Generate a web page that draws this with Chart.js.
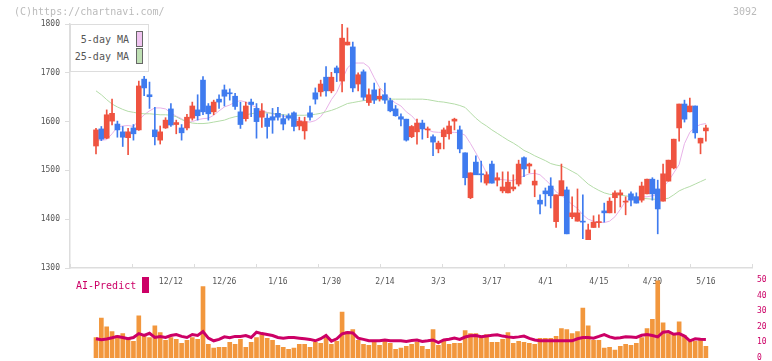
<!DOCTYPE html>
<html>
<head>
<meta charset="utf-8">
<script src="https://cdn.jsdelivr.net/npm/chart.js@4.4.1/dist/chart.umd.min.js"></script>
<style>
  body { margin: 0; background: #fff; width: 772px; height: 361px; position: relative; overflow: hidden;
         font-family: "DejaVu Sans Mono", monospace; }
  canvas { position: absolute; left: 0; }
  #priceChart { top: 0; }
  #volChart { top: 270px; }
  .t { position: absolute; white-space: nowrap; font-size: 10px; line-height: 12px; }
  .sw { position: absolute; width: 7px; height: 16px; box-sizing: border-box; }
</style>
</head>
<body>
<canvas id="priceChart" width="772" height="290"></canvas>
<canvas id="volChart" width="772" height="110"></canvas>

<div class="t" style="left:14px;top:6px;color:#bbb">(C)https://chartnavi.com/</div>
<div class="t" style="right:15px;top:6px;color:#bbb">3092</div>

<div style="position:absolute;left:70px;top:24px;width:79px;height:48px;box-sizing:border-box;border:1px solid #ddd;background:#fff"></div>
<div class="t" style="right:643px;top:34px;color:#555">5-day MA</div>
<div class="sw" style="left:136px;top:31px;background:#f0c4f0;border:1px solid #666"></div>
<div class="t" style="right:643px;top:51px;color:#555">25-day MA</div>
<div class="sw" style="left:136px;top:48px;background:#bfe0b4;border:1px solid #666"></div>

<div class="t" style="left:76px;top:280px;color:#cc0066">AI-Predict</div>
<div class="sw" style="left:142px;top:277px;background:#cc0066"></div>

<script>
// x range of the plot (bar index units), bar 0 = 11/22
var XMIN = -4.86, XMAX = 122.62;
var RED = '#ef5340', BLUE = '#3f7bef';

// date labels under the chart
var labelIdx = [14, 24, 34, 44, 54, 64, 74, 84, 94, 104, 114];
var labelText = ['12/12', '12/26', '1/16', '1/30', '2/14', '3/3', '3/17', '4/1', '4/15', '4/30', '5/16'];

// daily prices
var openP = [1550,1585,1566,1601,1595,1579,1567,1587,1583,1687,1655,1583,1562,1587,1626,1594,1587,1587,1607,1624,
  1685,1632,1620,1646,1665,1658,1652,1620,1606,1640,1627,1609,1607,1610,1617,1606,1612,1618,1591,1581,
  1618,1659,1661,1691,1663,1710,1683,1757,1753,1677,1702,1639,1665,1647,1655,1643,1626,1610,1605,1569,
  1579,1597,1583,1569,1544,1569,1575,1601,1583,1536,1444,1517,1493,1474,1513,1480,1458,1454,1462,1472,
  1526,1509,1470,1439,1458,1468,1395,1448,1460,1405,1396,1396,1358,1383,1393,1417,1413,1444,1450,1435,
  1452,1446,1439,1452,1482,1462,1437,1478,1505,1587,1636,1620,1632,1556,1581];
var highP = [1586,1590,1624,1646,1601,1590,1586,1594,1683,1693,1681,1629,1591,1608,1637,1603,1594,1615,1640,1655,
  1692,1637,1644,1655,1675,1667,1658,1640,1640,1646,1637,1637,1616,1627,1629,1614,1616,1620,1609,1609,
  1632,1669,1685,1713,1701,1714,1800,1792,1763,1700,1706,1667,1679,1667,1679,1648,1633,1616,1605,1592,
  1605,1603,1589,1573,1560,1587,1601,1607,1591,1536,1495,1530,1519,1497,1519,1495,1497,1497,1491,1521,
  1528,1515,1501,1450,1464,1485,1450,1513,1466,1446,1462,1450,1390,1407,1409,1433,1444,1458,1460,1446,
  1456,1454,1476,1482,1485,1480,1513,1521,1564,1636,1644,1648,1632,1566,1593];
var lowP = [1534,1561,1565,1593,1568,1549,1532,1562,1582,1653,1627,1552,1554,1586,1590,1575,1562,1583,1603,1603,
  1614,1603,1614,1627,1632,1644,1625,1586,1601,1610,1566,1588,1566,1576,1603,1583,1603,1581,1583,1564,
  1603,1636,1652,1652,1659,1682,1661,1757,1661,1663,1644,1633,1637,1642,1637,1620,1611,1591,1560,1567,
  1554,1564,1567,1530,1536,1544,1564,1583,1536,1470,1442,1491,1476,1470,1474,1468,1454,1454,1458,1468,
  1487,1495,1446,1411,1427,1423,1383,1448,1370,1401,1396,1360,1358,1383,1383,1394,1413,1413,1425,1409,
  1427,1433,1435,1452,1439,1370,1437,1478,1503,1560,1599,1620,1566,1534,1560];
var closeP = [1583,1564,1614,1617,1583,1568,1579,1575,1673,1669,1651,1569,1579,1603,1593,1598,1577,1609,1632,1612,
  1620,1616,1640,1640,1652,1657,1631,1594,1632,1635,1600,1622,1590,1603,1609,1595,1607,1590,1601,1600,
  1609,1646,1677,1663,1691,1700,1771,1763,1669,1696,1650,1655,1644,1652,1644,1622,1612,1605,1562,1590,
  1597,1585,1584,1558,1556,1583,1591,1605,1544,1485,1495,1491,1491,1491,1474,1485,1466,1476,1466,1513,
  1503,1513,1478,1431,1452,1448,1450,1479,1370,1413,1413,1394,1378,1394,1394,1413,1437,1454,1454,1436,
  1439,1433,1468,1482,1452,1421,1493,1521,1564,1636,1605,1632,1577,1566,1587];

// moving averages as drawn
var ma5 = [1562,1562,1563,1575,1589,1591,1592,1590,1603,1614,1622,1628,1628,1626,1618,1611,1606,1598,1600,1604,
  1606,1607,1613,1622,1630,1634,1640,1643,1640,1634,1629,1623,1619,1616,1613,1611,1609,1606,1603,1600,
  1599,1602,1610,1625,1645,1660,1685,1710,1720,1720,1720,1712,1690,1670,1658,1646,1638,1632,1620,1612,
  1600,1587,1583,1579,1578,1578,1578,1578,1577,1572,1555,1536,1516,1495,1484,1482,1481,1480,1479,1484,
  1489,1493,1494,1491,1481,1470,1456,1449,1440,1430,1422,1409,1400,1396,1394,1393,1396,1405,1420,1437,
  1442,1445,1446,1446,1448,1451,1465,1478,1495,1512,1555,1578,1589,1594,1596];
var ma25 = [1663,1655,1645,1636,1630,1625,1621,1619,1617,1616,1616,1615,1614,1614,1613,1610,1604,1600,1597,1596,
  1596,1597,1599,1601,1603,1607,1610,1612,1614,1616,1618,1618,1618,1617,1615,1614,1613,1613,1613,1613,
  1614,1615,1617,1620,1623,1627,1632,1637,1639,1641,1643,1644,1645,1645,1646,1646,1646,1646,1646,1646,
  1646,1646,1645,1643,1641,1640,1638,1636,1633,1629,1618,1607,1598,1591,1583,1576,1569,1562,1556,1549,
  1541,1536,1530,1525,1520,1514,1511,1509,1504,1498,1492,1482,1472,1465,1459,1454,1451,1450,1449,1448,
  1446,1445,1443,1442,1441,1441,1441,1443,1450,1458,1463,1467,1472,1477,1482];

// volume panel
var volume = [13.1,25.6,20,16.9,14.4,15.6,11.9,10.6,26.9,14.4,13.1,20.6,16.3,11.3,13.1,11.9,9.4,11.3,13.1,11.9,
  45.6,8.8,6.3,6.9,6.9,10,8.8,11.9,6.9,10,13.1,15,12.5,11.3,8.1,6.9,5.6,6.3,8.8,8.8,
  6.9,10,9.4,13.1,8.8,10.6,29.4,16.9,18.1,11.3,8.8,8.1,10,8.1,10.6,9.4,5.6,6.3,7.5,8.8,
  10,7.5,5.6,18.1,8.1,10.6,8.8,9.4,9.4,17.5,15.6,15.6,13.8,15,10,10,11.9,16.3,9.4,10.6,
  10,9.4,8.8,12.5,12.5,12.5,13.8,18.8,18.1,15.6,16.9,31.9,20.6,11.3,11.3,6.3,6.9,5,7.5,8.8,
  8.1,9.4,13.1,18.8,24.8,49.4,22.5,15.6,15,23.1,14.4,11.3,10.6,11.9,7.5];
var aiPredict = [12.3,11.7,12.1,12.9,13.8,13.1,12.3,13.1,15.6,14.4,15.8,13.1,13.8,13.1,14.4,15,13.8,13.1,15,14.4,
  16.9,12.7,11,11.9,13.5,12.9,13.8,13.8,14.4,13.1,16.5,15.6,15,14.4,13.1,12.7,13.1,13.1,12.7,12.3,
  11.9,11,12.3,14.4,10.8,12.3,15.4,16.3,16,12.7,11.9,11,11,11,11.5,11,11,11,10.6,11.2,
  11.5,10.6,11,11.5,9.8,11.5,12,12.7,11.9,13.4,14.2,14.4,13.6,14,14.6,14.8,14,13.5,13.1,13.5,
  14,12.5,11.5,11,11,11,11,11,11,11,12.3,13.1,13.1,12.7,13.8,15,13.5,12.7,13,13.6,
  13.4,13.1,14.5,15,14.4,13.5,16.5,16.9,15.2,15.6,14,11,12.3,12,11.9];

Chart.defaults.font.family = '"DejaVu Sans Mono", monospace';

function candleColor(i) {
  return closeP[i] >= openP[i] ? RED : BLUE;
}
function xy(arr) {
  return arr.map(function(v, i) { return { x: i, y: v }; });
}
function pairs(a, b) {
  return a.map(function(v, i) { return { x: i, y: [v, b[i]] }; });
}

// short upward tick marks on the price x axis
var upTicks = {
  id: 'upTicks',
  afterDraw: function(chart) {
    var s = chart.scales.x, ctx = chart.ctx, b = chart.chartArea.bottom;
    ctx.save();
    ctx.strokeStyle = '#ddd';
    ctx.lineWidth = 1;
    s.ticks.forEach(function(t) {
      var px = Math.round(s.getPixelForValue(t.value)) + 0.5;
      ctx.beginPath();
      ctx.moveTo(px, b);
      ctx.lineTo(px, b - 4);
      ctx.stroke();
    });
    ctx.restore();
  }
};

new Chart(document.getElementById('priceChart'), {
  type: 'bar',
  data: {
    datasets: [
      { type: 'line', data: xy(ma25), borderColor: '#b4dca8', borderWidth: 1, pointRadius: 0, order: 3 },
      { type: 'line', data: xy(ma5), borderColor: '#e8b2e8', borderWidth: 1, pointRadius: 0, order: 3 },
      { data: pairs(lowP, highP), barThickness: 1, grouped: false, order: 2,
        backgroundColor: function(c) { return candleColor(c.dataIndex); } },
      { data: pairs(openP, closeP), barThickness: 5, grouped: false, minBarLength: 1, order: 1,
        backgroundColor: function(c) { return candleColor(c.dataIndex); } }
    ]
  },
  options: {
    responsive: false,
    animation: false,
    layout: { padding: { top: 24, right: 20, left: 0, bottom: 0 } },
    plugins: { legend: { display: false }, tooltip: { enabled: false } },
    scales: {
      x: {
        type: 'linear', min: XMIN, max: XMAX, offset: false,
        grid: { display: false },
        border: { color: '#ddd', width: 1.5 },
        ticks: { display: false },
        afterBuildTicks: function(s) {
          var t = [];
          for (var k = 0; k <= 11; k++) t.push({ value: XMIN + k * (XMAX - XMIN) / 11 });
          s.ticks = t;
        },
        afterFit: function(s) { s.height = 22; }
      },
      y: {
        min: 1300, max: 1800,
        ticks: { stepSize: 100, color: '#555', font: { size: 8 }, padding: 5,
                 callback: function(v) { return String(v); } },
        grid: { drawOnChartArea: false, tickLength: 5, color: '#ddd' },
        border: { color: '#ddd', width: 1.5 },
        afterFit: function(s) { s.width = 70; }
      }
    }
  },
  plugins: [upTicks]
});

// date labels sit at the top of the volume panel, behind the bars
var dateLabels = {
  id: 'dateLabels',
  beforeDatasetsDraw: function(chart) {
    var s = chart.scales.x, ctx = chart.ctx;
    ctx.save();
    ctx.font = '8px "DejaVu Sans Mono", monospace';
    ctx.fillStyle = '#555';
    ctx.textAlign = 'center';
    ctx.textBaseline = 'middle';
    labelIdx.forEach(function(idx, k) {
      ctx.fillText(labelText[k], s.getPixelForValue(idx), 12);
    });
    ctx.restore();
  }
};

new Chart(document.getElementById('volChart'), {
  type: 'bar',
  data: {
    datasets: [
      { type: 'line', data: xy(aiPredict), yAxisID: 'v', borderColor: '#cc0066', borderWidth: 3,
        pointRadius: 0, order: 0 },
      { data: xy(volume), yAxisID: 'v', backgroundColor: '#f2973d', barThickness: 4, grouped: false, order: 1 }
    ]
  },
  options: {
    responsive: false,
    animation: false,
    layout: { padding: { top: 8, right: 0, left: 70, bottom: 22 } },
    plugins: { legend: { display: false }, tooltip: { enabled: false } },
    scales: {
      x: { type: 'linear', min: XMIN, max: XMAX, offset: false, display: false },
      v: {
        position: 'right', min: 0, max: 50,
        ticks: { stepSize: 10, color: '#cc0066', font: { size: 8 }, padding: 5 },
        grid: { display: false, drawTicks: false },
        border: { display: false },
        afterFit: function(s) { s.width = 20; }
      }
    }
  },
  plugins: [dateLabels]
});
</script>
</body>
</html>
